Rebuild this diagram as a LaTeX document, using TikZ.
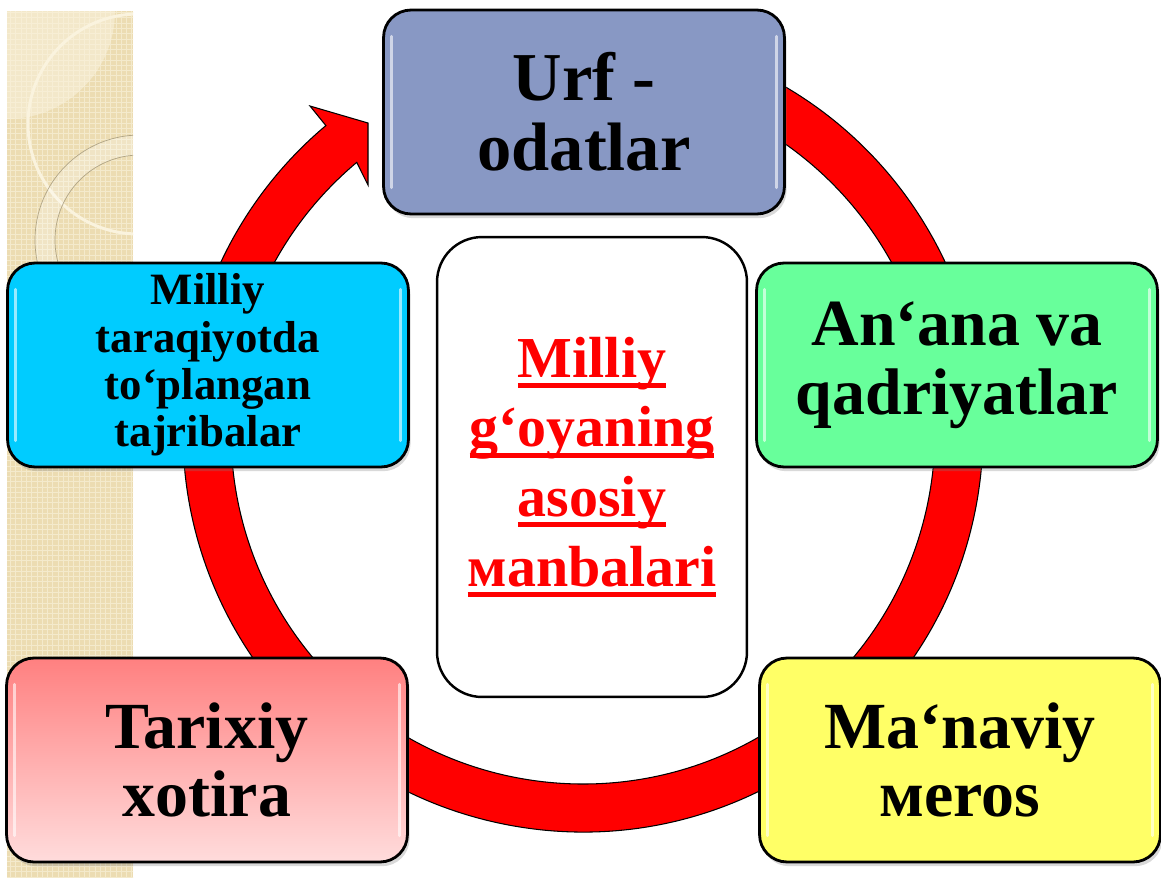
\documentclass[tikz,border=0pt]{standalone}
\usepackage{fontspec}
\setmainfont{Liberation Serif}
\usetikzlibrary{calc,shadows,patterns}
\definecolor{urfblue}{RGB}{136,152,196}
\definecolor{anagreen}{RGB}{104,255,155}
\definecolor{tajcyan}{RGB}{0,204,255}
\definecolor{merosyellow}{RGB}{255,255,102}
\definecolor{tarixtop}{RGB}{255,128,128}
\definecolor{tarixbot}{RGB}{255,220,220}
\definecolor{stripbeige}{RGB}{236,220,178}
\definecolor{stripcream}{RGB}{250,243,222}
\newsavebox{\ulbox}
\newcommand{\ulword}[1]{\sbox{\ulbox}{#1}\rlap{\rule[-6pt]{\wd\ulbox}{2.8pt}}\usebox{\ulbox}}
\tikzset{
	glossy/.style={path picture={
		\draw[white, line width=1.6pt, opacity=0.6, line cap=round] ([xshift=4.5pt,yshift=-15pt]path picture bounding box.north west) -- ([xshift=4.5pt,yshift=15pt]path picture bounding box.south west);
		\draw[white, line width=1.6pt, opacity=0.6, line cap=round] ([xshift=-4.5pt,yshift=-15pt]path picture bounding box.north east) -- ([xshift=-4.5pt,yshift=15pt]path picture bounding box.south east);
	}},
	topicbox/.style={draw=black, line width=1.6pt, rounded corners=0.55cm, minimum width=8.02cm, minimum height=4.08cm, align=center, inner sep=0pt, font=\bfseries\fontsize{37.5}{39}\selectfont, drop shadow={shadow xshift=1.2pt, shadow yshift=-2.4pt, opacity=0.3}, glossy},
	centrebox/.style={draw=black, line width=1.4pt, rounded corners=0.9cm, minimum width=6.2cm, minimum height=9.2cm, align=center, inner sep=0pt, text=red, fill=white, font=\bfseries\fontsize{33}{39.7}\selectfont}
}

\begin{document}
\begin{tikzpicture}[x=0.02cm, y=0.02cm]
			%%%%% START %%%%%
			\useasboundingbox (0,0) rectangle (1161,-877);
			
			% decorative strip
			\fill[stripbeige] (7,-11) rectangle (133,-877);
			\fill[pattern=grid, pattern color=stripcream!60!stripbeige] (7,-11) rectangle (133,-877);
			\begin{scope}
				\clip (7,-11) rectangle (133,-877);
				\fill[stripcream, opacity=0.55] (7,-11) circle (108);
				\draw[stripcream, line width=1.7pt] (138,-124) circle (110);
				\draw[even odd rule, fill=white, fill opacity=0.25, draw=stripbeige!75!black, line width=0.4pt] (140,-240) circle (105) (140,-240) circle (85);
			\end{scope}
			
			% red ring with arrow head
			\coordinate (c) at (583,-432);
			\draw[fill=red, line width=0.6pt] ($(c)+(80:400)$) arc[start angle=80, end angle=-230, radius=400] -- (310,-106) -- (368,-123) -- (368,-185) -- ($(c)+(130:352)$) arc[start angle=-230, end angle=80, radius=352] -- cycle;
			
			\node[topicbox, fill=urfblue, font=\bfseries\fontsize{39}{40}\selectfont] (urf) at (584,-112) {Urf -\\odatlar};
			\node[topicbox, fill=anagreen] (anana) at (957,-365) {An‘ana va\\qadriyatlar};
			\node[topicbox, fill=merosyellow] (meros) at (960,-760) {Ma‘naviy\\мeros};
			\node[topicbox, top color=tarixtop, bottom color=tarixbot] (tarix) at (207,-760) {Tarixiy\\xotira};
			\node[topicbox, fill=tajcyan, font=\bfseries\fontsize{25.5}{27}\selectfont] (tajriba) at (208,-365) {Milliy\\taraqiyotda\\to‘plangan\\tajribalar};
			
			\node[centrebox] (manba) at (592,-467) {\ulword{Milliy}\\\ulword{g‘oyaning}\\\ulword{asosiy}\\\ulword{мanbalari}};
			
			%%%%% END %%%%%
\end{tikzpicture}
\end{document}
